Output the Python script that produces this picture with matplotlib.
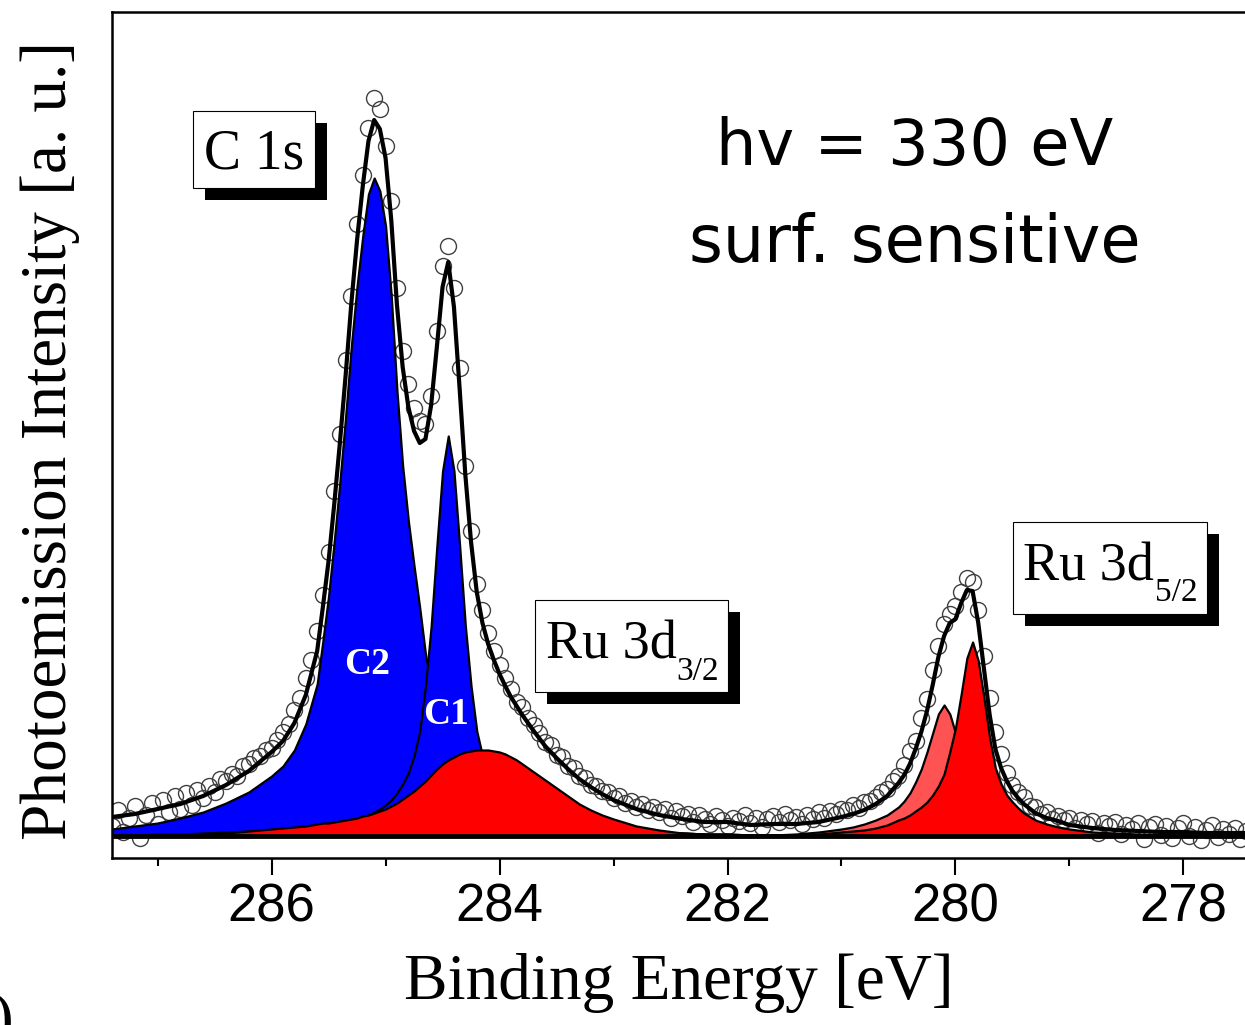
#C 1s / Ru 3d photoemission spectrum with fitted components

import numpy as np
import matplotlib
matplotlib.use('Agg')
import matplotlib.pyplot as plt
from matplotlib.patches import Rectangle

#binding energy grid of the fit curves (eV)
fit_be = [287.4, 287.2, 287.0, 286.8, 286.6, 286.4, 286.2, 286.0,
	285.9, 285.8, 285.7, 285.6,
	285.55, 285.5, 285.45, 285.4, 285.35, 285.3, 285.25, 285.2, 285.15, 285.1,
	285.05, 285.0, 284.95, 284.9, 284.85, 284.8, 284.75, 284.7, 284.65, 284.6,
	284.55, 284.5, 284.45, 284.4, 284.35, 284.3, 284.25, 284.2, 284.15, 284.1,
	284.05, 284.0, 283.95, 283.9, 283.85, 283.8,
	283.7, 283.6, 283.5, 283.4, 283.3, 283.2, 283.1, 283.0,
	282.8, 282.6, 282.4, 282.2, 282.0, 281.8, 281.6, 281.4, 281.2, 281.0,
	280.9, 280.8, 280.7, 280.6, 280.5,
	280.45, 280.4, 280.35, 280.3, 280.25, 280.2, 280.15, 280.1, 280.05, 280.0,
	279.95, 279.9, 279.85, 279.8, 279.75, 279.7, 279.65, 279.6, 279.55, 279.5,
	279.45, 279.4,
	279.3, 279.2, 279.1, 279.0, 278.8, 278.6, 278.4, 278.2, 278.0, 277.8, 277.6, 277.4]

#C2 component (C 1s)
c2_fit = [7, 10, 13, 18, 24, 33, 44, 60,
	70, 86, 112, 152,
	195, 240, 295, 355, 420, 490, 550, 600, 642, 658,
	645, 610, 540, 445, 370, 315, 270, 228, 182, 150,
	122, 102, 88, 76, 66, 58, 50, 44, 38, 34,
	30, 26, 23, 20, 18, 16,
	13, 10, 9, 8, 7, 6, 5, 5,
	4, 3, 3, 2, 2, 1, 1, 1, 0, 0,
	0, 0, 0, 0, 0,
	0, 0, 0, 0, 0, 0, 0, 0, 0, 0,
	0, 0, 0, 0, 0, 0, 0, 0, 0, 0,
	0, 0,
	0, 0, 0, 0, 0, 0, 0, 0, 0, 0, 0, 0]

#C1 component (C 1s)
c1_fit = [1, 1, 2, 2, 3, 4, 5, 6,
	6, 7, 8, 10,
	10, 11, 12, 13, 14, 15, 17, 19, 21, 24,
	27, 31, 36, 43, 52, 63, 80, 105, 150, 210,
	290, 365, 400, 365, 290, 210, 150, 105, 80, 63,
	52, 43, 36, 31, 27, 24,
	19, 15, 12, 10, 9, 8, 7, 6,
	5, 4, 3, 2, 2, 1, 1, 0, 0, 0,
	0, 0, 0, 0, 0,
	0, 0, 0, 0, 0, 0, 0, 0, 0, 0,
	0, 0, 0, 0, 0, 0, 0, 0, 0, 0,
	0, 0,
	0, 0, 0, 0, 0, 0, 0, 0, 0, 0, 0, 0]

#Ru 3d3/2
ru32_fit = [0, 0, 1, 1, 2, 3, 5, 7,
	8, 9, 10, 12,
	13, 13, 14, 15, 16, 17, 18, 20, 21, 23,
	25, 27, 30, 33, 37, 41, 45, 50, 55, 61,
	67, 72, 76, 79, 82, 84, 85, 86, 86, 86,
	85, 84, 82, 79, 76, 72,
	64, 56, 48, 40, 32, 26, 21, 17,
	10, 6, 3, 2, 1, 0, 0, 0, 0, 0,
	0, 0, 0, 0, 0,
	0, 0, 0, 0, 0, 0, 0, 0, 0, 0,
	0, 0, 0, 0, 0, 0, 0, 0, 0, 0,
	0, 0,
	0, 0, 0, 0, 0, 0, 0, 0, 0, 0, 0, 0]

#Ru 3d5/2 shifted component
ru52_sat_fit = [0, 0, 0, 0, 0, 0, 0, 0,
	0, 0, 0, 0,
	0, 0, 0, 0, 0, 0, 0, 0, 0, 0,
	0, 0, 0, 0, 0, 0, 0, 0, 0, 0,
	0, 0, 0, 0, 0, 0, 0, 0, 0, 0,
	0, 0, 0, 0, 0, 0,
	0, 0, 0, 0, 0, 0, 0, 0,
	0, 0, 0, 0, 0, 0, 1, 2, 4, 7,
	9, 12, 16, 21, 29,
	35, 43, 54, 67, 84, 103, 122, 131, 122, 103,
	85, 62, 45, 32, 24, 18, 14, 11, 9, 7,
	6, 5,
	3, 2, 2, 1, 1, 0, 0, 0, 0, 0, 0, 0]

#Ru 3d5/2 main component
ru52_fit = [0, 0, 0, 0, 0, 0, 0, 0,
	0, 0, 0, 0,
	0, 0, 0, 0, 0, 0, 0, 0, 0, 0,
	0, 0, 0, 0, 0, 0, 0, 0, 0, 0,
	0, 0, 0, 0, 0, 0, 0, 0, 0, 0,
	0, 0, 0, 0, 0, 0,
	0, 0, 0, 0, 0, 0, 0, 0,
	0, 0, 0, 0, 1, 1, 1, 1, 2, 4,
	5, 6, 8, 11, 16,
	18, 21, 25, 29, 34, 41, 50, 62, 84, 108,
	142, 178, 194, 175, 138, 98, 68, 52, 41, 34,
	28, 23,
	16, 12, 9, 7, 4, 3, 2, 1, 1, 0, 0, 0]

#Shirley background
shirley_bg = [11, 11, 11, 11, 11, 11, 11, 11,
	11, 11, 11, 11,
	11, 11, 11, 11, 11, 11, 11, 11, 11, 11,
	10, 10, 10, 10, 10, 10, 10, 10, 10, 10,
	10, 10, 10, 9, 9, 9, 9, 9, 9, 9,
	9, 9, 9, 9, 9, 9,
	9, 9, 9, 9, 9, 9, 9, 8,
	8, 8, 8, 8, 8, 8, 8, 8, 8, 8,
	8, 8, 8, 8, 8,
	8, 8, 8, 8, 7, 7, 7, 7, 7, 6,
	6, 6, 6, 6, 5, 5, 5, 5, 5, 4,
	4, 4,
	4, 4, 4, 3, 3, 3, 3, 3, 3, 3, 3, 3]

#measured spectrum
data_be = [287.40, 287.35, 287.30, 287.25, 287.20, 287.15, 287.10, 287.05, 287.00, 286.95,
	286.90, 286.85, 286.80, 286.75, 286.70, 286.65, 286.60, 286.55, 286.50, 286.45,
	286.40, 286.35, 286.30, 286.25, 286.20, 286.15, 286.10, 286.05, 286.00, 285.95,
	285.90, 285.85, 285.80, 285.75, 285.70, 285.65, 285.60, 285.55, 285.50, 285.45,
	285.40, 285.35, 285.30, 285.25, 285.20, 285.15, 285.10, 285.05, 285.00, 284.95,
	284.90, 284.85, 284.80, 284.75, 284.70, 284.65, 284.60, 284.55, 284.50, 284.45,
	284.40, 284.35, 284.30, 284.25, 284.20, 284.15, 284.10, 284.05, 284.00, 283.95,
	283.90, 283.85, 283.80, 283.75, 283.70, 283.65, 283.60, 283.55, 283.50, 283.45,
	283.40, 283.35, 283.30, 283.25, 283.20, 283.15, 283.10, 283.05, 283.00, 282.95,
	282.90, 282.85, 282.80, 282.75, 282.70, 282.65, 282.60, 282.55, 282.50, 282.45,
	282.40, 282.35, 282.30, 282.25, 282.20, 282.15, 282.10, 282.05, 282.00, 281.95,
	281.90, 281.85, 281.80, 281.75, 281.70, 281.65, 281.60, 281.55, 281.50, 281.45,
	281.40, 281.35, 281.30, 281.25, 281.20, 281.15, 281.10, 281.05, 281.00, 280.95,
	280.90, 280.85, 280.80, 280.75, 280.70, 280.65, 280.60, 280.55, 280.50, 280.45,
	280.40, 280.35, 280.30, 280.25, 280.20, 280.15, 280.10, 280.05, 280.00, 279.95,
	279.90, 279.85, 279.80, 279.75, 279.70, 279.65, 279.60, 279.55, 279.50, 279.45,
	279.40, 279.35, 279.30, 279.25, 279.20, 279.15, 279.10, 279.05, 279.00, 278.95,
	278.90, 278.85, 278.80, 278.75, 278.70, 278.65, 278.60, 278.55, 278.50, 278.45,
	278.40, 278.35, 278.30, 278.25, 278.20, 278.15, 278.10, 278.05, 278.00, 277.95,
	277.90, 277.85, 277.80, 277.75, 277.70, 277.65, 277.60, 277.55, 277.50, 277.45]

data_int = [10, 26, 4, 18, 30, -2, 21, 33, 12, 36,
	24, 40, 27, 43, 31, 46, 38, 50, 44, 57,
	55, 62, 60, 70, 72, 78, 80, 86, 88, 96,
	104, 112, 126, 138, 158, 176, 205, 241, 284, 345,
	402, 476, 540, 612, 661, 708, 738, 727, 690, 635,
	548, 485, 452, 428, 415, 412, 440, 505, 570, 590,
	548, 468, 370, 305, 252, 226, 203, 185, 171, 158,
	147, 134, 129, 118, 111, 103, 94, 91, 81, 79,
	70, 68, 60, 58, 51, 50, 45, 44, 38, 40,
	33, 35, 29, 32, 26, 29, 24, 27, 18, 25,
	20, 22, 14, 21, 17, 12, 20, 16, 10, 18,
	15, 21, 13, 18, 9, 17, 20, 14, 22, 16,
	19, 12, 21, 17, 24, 18, 25, 22, 27, 26,
	31, 28, 34, 35, 39, 44, 47, 55, 60, 71,
	85, 95, 118, 137, 166, 190, 212, 222, 230, 244,
	258, 254, 226, 180, 138, 104, 82, 63, 51, 44,
	39, 30, 29, 22, 24, 17, 20, 16, 18, 8,
	16, 12, 15, 3, 13, 10, 14, 2, 11, 7,
	13, -3, 9, 12, 1, 10, -2, 8, 13, 0,
	9, -4, 6, 11, -1, 7, 2, 8, -3, 5]

xticks_major = [286, 284, 282, 280, 278]
xticks_minor = [287, 285, 283, 281, 279]

SERIF = 'Liberation Serif'


def shadow_box(ax, x0, y0, x1, y1):
	#white frame with a solid black drop shadow (axes fraction coords)
	dx, dy = 0.0106, -0.0142
	ax.add_patch(Rectangle((x0 + dx, y0 + dy), x1 - x0, y1 - y0, transform=ax.transAxes,
		facecolor='black', edgecolor='none', zorder=11, clip_on=False))
	ax.add_patch(Rectangle((x0, y0), x1 - x0, y1 - y0, transform=ax.transAxes,
		facecolor='white', edgecolor='black', linewidth=0.8, zorder=12, clip_on=False))


def peak_label(ax, x, y, main, x_sub, y_sub, sub):
	ax.text(x, y, main, transform=ax.transAxes, ha='left', va='baseline',
		fontsize=39, family=SERIF, zorder=13)
	ax.text(x_sub, y_sub, sub, transform=ax.transAxes, ha='left', va='baseline',
		fontsize=24, family=SERIF, zorder=13)


def plot_spectrum(save_filepath='out.png'):
	fig = plt.figure(figsize=(12.45, 10.25), dpi=100)
	ax = fig.add_axes([112/1245, 167/1025, 1133/1245, 846/1025])

	be = np.array(fit_be)
	c2 = np.array(c2_fit)
	c1 = np.array(c1_fit)
	ru32 = np.array(ru32_fit)
	sat = np.array(ru52_sat_fit)
	ru52 = np.array(ru52_fit)
	bg = np.array(shirley_bg)
	envelope = c2 + c1 + ru32 + sat + ru52 + bg

	#raw data as open circles
	ax.plot(data_be, data_int, 'o', markerfacecolor='none', markeredgecolor='#404040',
		markeredgewidth=1.0, markersize=11.5, zorder=1)

	#fitted components
	ax.fill_between(be, 0, c2, facecolor='#0000ff', edgecolor='black', linewidth=1.6, zorder=2)
	ax.fill_between(be, 0, c1, facecolor='#0000ff', edgecolor='black', linewidth=1.6, zorder=3)
	ax.fill_between(be, 0, ru32, facecolor='#ff0000', edgecolor='black', linewidth=1.6, zorder=4)
	ax.fill_between(be, 0, sat, facecolor='#ff5252', edgecolor='black', linewidth=1.6, zorder=5)
	ax.fill_between(be, 0, ru52, facecolor='#ff0000', edgecolor='black', linewidth=1.6, zorder=6)
	ax.axhline(0, color='black', linewidth=3.5, zorder=7)

	#total fit
	ax.plot(be, envelope, color='black', linewidth=3, zorder=8)

	ax.set_xlim(287.40, 277.46)
	ax.set_ylim(-22, 824)
	ax.set_xticks(xticks_major)
	ax.set_xticks(xticks_minor, minor=True)
	ax.set_yticks([])
	ax.tick_params(axis='x', which='major', direction='out', length=12, width=1.5,
		labelsize=38, pad=6)
	ax.tick_params(axis='x', which='minor', direction='out', length=6, width=1.5)
	for lab in ax.get_xticklabels():
		lab.set_family('Liberation Sans')
	for side in ['left', 'top', 'bottom']:
		ax.spines[side].set_linewidth(1.8)
	ax.spines['right'].set_visible(False)

	ax.set_xlabel('Binding Energy [eV]', fontsize=47, family=SERIF)
	ax.set_ylabel('Photoemission Intensity [a. u.]', fontsize=47, family=SERIF)
	ax.xaxis.set_label_coords(0.5, -0.112)
	ax.yaxis.set_label_coords(-0.028, 0.494)

	#region labels
	shadow_box(ax, 0.0715, 0.7920, 0.1791, 0.8830)
	ax.text(0.1253, 0.8156, 'C 1s', transform=ax.transAxes, ha='center', va='baseline',
		fontsize=40, family=SERIF, zorder=13)

	shadow_box(ax, 0.3733, 0.1962, 0.5437, 0.3050)
	peak_label(ax, 0.3830, 0.2364, 'Ru 3d', 0.4980, 0.2104, '3/2')

	shadow_box(ax, 0.7952, 0.2884, 0.9665, 0.3972)
	peak_label(ax, 0.8040, 0.3286, 'Ru 3d', 0.9205, 0.3038, '5/2')

	ax.text(0.7087, 0.8191, 'hv = 330 eV', transform=ax.transAxes, ha='center', va='baseline',
		fontsize=46, family='DejaVu Sans', zorder=12)
	ax.text(0.7087, 0.7045, 'surf. sensitive', transform=ax.transAxes, ha='center', va='baseline',
		fontsize=47, family='DejaVu Sans', zorder=12)

	ax.text(285.16, 172, 'C2', ha='center', va='center', color='white', fontsize=27,
		fontweight='bold', family=SERIF, zorder=12)
	ax.text(284.47, 122, 'C1', ha='center', va='center', color='white', fontsize=27,
		fontweight='bold', family=SERIF, zorder=12)

	fig.text(0.002, -0.013, ')', ha='center', va='baseline', fontsize=47, family=SERIF)

	plt.savefig(save_filepath, dpi=100)


if __name__ == '__main__':
	plot_spectrum('out.png')
